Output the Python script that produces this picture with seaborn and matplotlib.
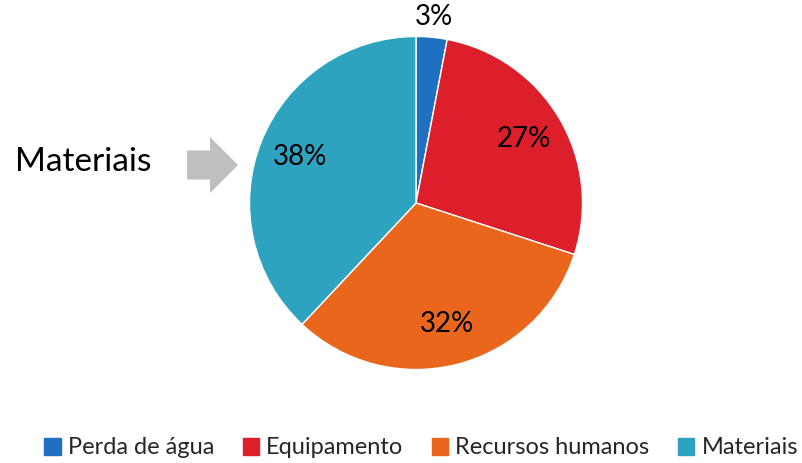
import numpy as np
import matplotlib
matplotlib.use("Agg")
import matplotlib.pyplot as plt
import matplotlib.patches as mpatches
import seaborn as sns

# dados
categorias = ["Perda de água", "Equipamento", "Recursos humanos", "Materiais"]
valores = [3, 27, 32, 38]
cores = ["#1f70c1", "#dc1f2b", "#ea661d", "#2ea3c0"]
destaque = "Materiais"

sns.set_theme(style="white")
plt.rcParams['font.family'] = ['Lato', 'DejaVu Sans']

W, H = 802, 463
fig = plt.figure(figsize=(W / 100, H / 100), dpi=100)
ax = fig.add_axes([0, 0, 1, 1])
ax.set_xlim(0, W)
ax.set_ylim(0, H)
ax.set_aspect("equal")
ax.axis("off")

cx, cy, r = 416, H - 203, 166.5
wedges, _ = ax.pie(
    valores,
    colors=sns.color_palette(cores),
    startangle=90,
    counterclock=False,
    center=(cx, cy),
    radius=r,
    wedgeprops=dict(linewidth=1, edgecolor="white"),
)
ax.set_xlim(0, W)
ax.set_ylim(0, H)

# rótulos de percentagem
total = sum(valores)
acum = 0
for i, v in enumerate(valores):
    meio = (acum + v / 2) / total * 2 * np.pi
    acum += v
    dist = 1.12 if v < 5 else 0.75
    x = cx + dist * r * np.sin(meio)
    y = cy + dist * r * np.cos(meio)
    ax.text(x, y, f"{v}%", ha="center", va="center", fontsize=20, color="black")

# seta e texto de destaque
ax.text(15, H - 162, destaque, ha="left", va="center", fontsize=24, color="black")
seta = mpatches.FancyArrow(187, H - 165, 51, 0, width=29, head_width=56,
                           head_length=28, length_includes_head=True,
                           color="#bfbfbf", linewidth=0)
ax.add_patch(seta)

# legenda
handles = [mpatches.Patch(color=c, label=l) for c, l in zip(cores, categorias)]
fig.legend(handles=handles, loc="center", bbox_to_anchor=(0.525, 1 - 448 / H),
           ncol=4, frameon=False, fontsize=17, handlelength=0.7, handleheight=0.7,
           handletextpad=0.3, columnspacing=1.2, borderaxespad=0)

fig.savefig("out.png", dpi=100)
